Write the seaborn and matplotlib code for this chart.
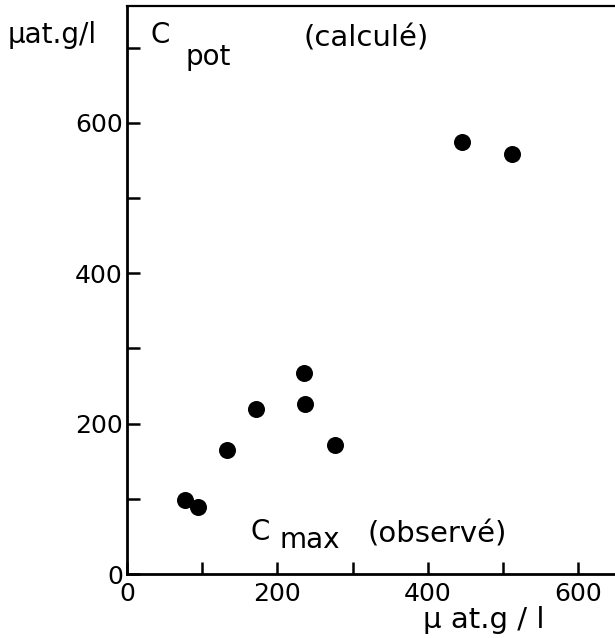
import matplotlib
matplotlib.use("Agg")
import matplotlib.pyplot as plt
from matplotlib.ticker import FixedLocator
import seaborn as sns
import pandas as pd

# data (C_max observed vs C_pot computed, µat.g/l)
c_max_obs = [77, 95, 133, 171, 236, 237, 276, 445, 512]
c_pot_calc = [99, 89, 165, 220, 267, 226, 172, 575, 559]
x_tick_labels = ["0", "200", "400", "600"]
y_tick_labels = ["0", "200", "400", "600"]

df = pd.DataFrame({"cmax": c_max_obs, "cpot": c_pot_calc})

W, H = 615, 638
fig = plt.figure(figsize=(W / 100, H / 100), dpi=100)
plt.rcParams["font.family"] = ["DejaVu Sans"]

x0, y0 = 127, 574        # axis origin in pixels
xr, yt = 615, 6          # right / top edges in pixels
scale = 0.752            # pixels per data unit
ax = fig.add_axes([x0 / W, 1 - y0 / H, (xr - x0) / W, (y0 - yt) / H])
ax.set_xlim(0, (xr - x0) / scale)
ax.set_ylim(0, (y0 - yt) / scale)

sns.scatterplot(data=df, x="cmax", y="cpot", ax=ax, color="black",
                s=150, linewidth=0, legend=False, zorder=3, clip_on=False)

for side in ["left", "bottom"]:
    ax.spines[side].set_linewidth(2.0)
ax.spines["top"].set_linewidth(1.6)
ax.spines["right"].set_visible(False)

ax.xaxis.set_major_locator(FixedLocator([0, 200, 400, 600]))
ax.yaxis.set_major_locator(FixedLocator([0, 200, 400, 600]))
ax.xaxis.set_minor_locator(FixedLocator([100, 300, 500]))
ax.yaxis.set_minor_locator(FixedLocator([100, 300, 500, 700]))
ax.set_xticklabels(x_tick_labels)
ax.set_yticklabels(y_tick_labels)
ax.tick_params(which="both", direction="in", length=9, width=1.8,
               top=False, right=False, color="black")
ax.tick_params(axis="x", which="major", pad=6, labelsize=18)
ax.tick_params(axis="y", which="major", pad=3, labelsize=18)
ax.set_xlabel("")
ax.set_ylabel("")


def put(px, py, s, size=20):
    fig.text(px / W, 1 - py / H, s, fontsize=size, ha="left", va="baseline",
             color="black")


put(8, 43, "μat.g/l", 20)
put(150, 43, "C", 20)
put(185, 65, "pot", 20)
put(303, 46, "(calculé)", 21)
put(250, 540, "C", 20)
put(280, 548, "max", 20)
put(367, 543, "(observé)", 21)
put(423, 628, "μ at.g / l", 21)

fig.savefig("out.png", dpi=100)
